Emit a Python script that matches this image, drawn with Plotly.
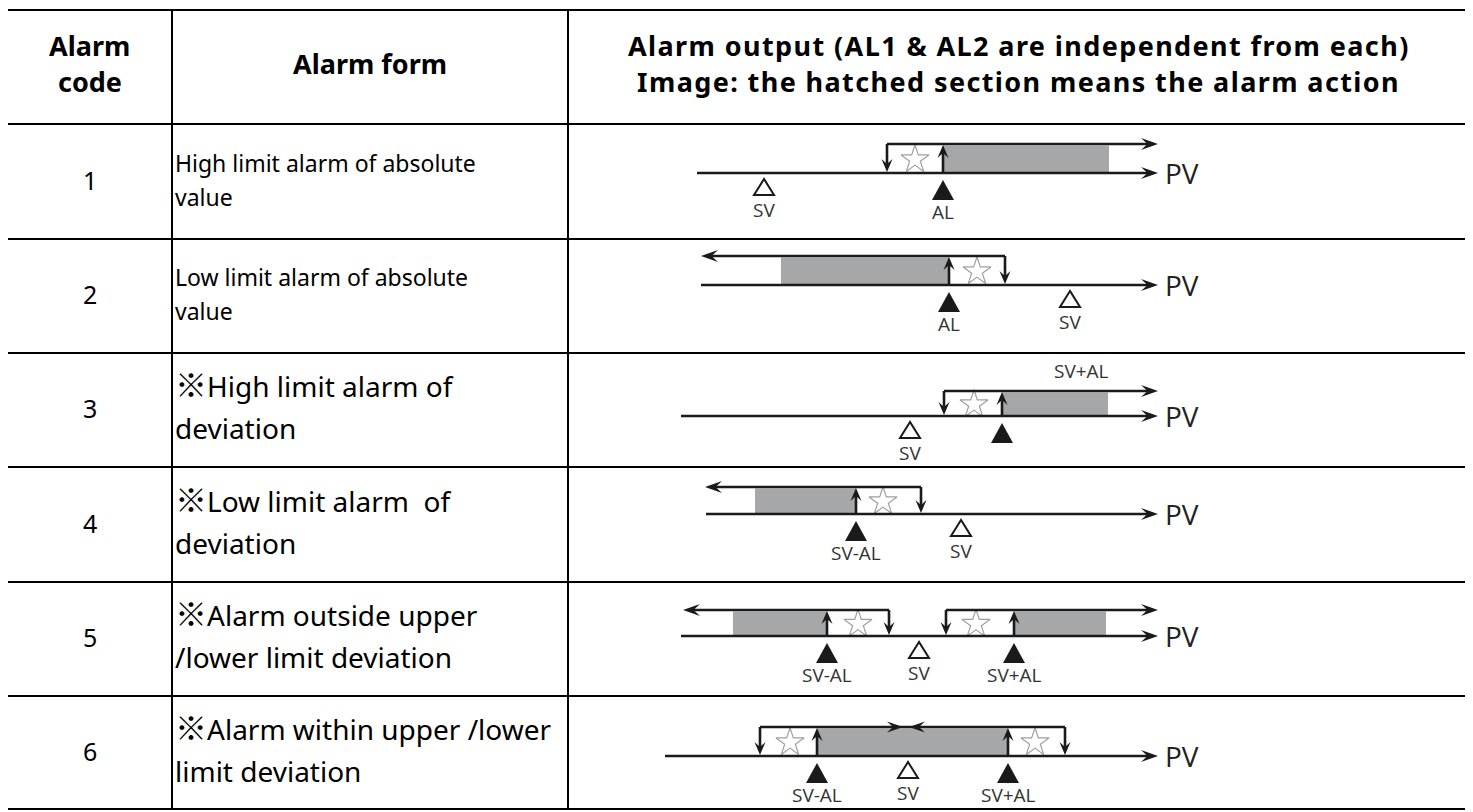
import plotly.graph_objects as go

W, H = 1473, 812
OFF = 8  # page body margin in the browser

# ---------------- table data ----------------
col_edges = [7, 172, 568, 1469]
row_edges = [10, 124, 239, 353, 467, 582, 696, 809]

header_code = ["Alarm", "code"]
header_form = "Alarm form"
header_output = ["Alarm output (AL1 & AL2 are independent from each)",
                 "Image: the hatched section means the alarm action"]

codes = ["1", "2", "3", "4", "5", "6"]
mark = ["", "", "※", "※", "※", "※"]
form_line1 = ["High limit alarm of absolute", "Low limit alarm of absolute",
              "High limit alarm of", "Low limit alarm&nbsp; of",
              "Alarm outside upper", "Alarm within upper /lower"]
form_line2 = ["value", "value", "deviation", "deviation",
              "/lower limit deviation", "limit deviation"]
form_size = [23, 23, 28, 28, 28, 28]

# ---------------- diagram data (positions along the PV axis) ----------------
axis_y = [173, 285, 416, 514, 636, 756]
top_y = [144, 256, 391, 487, 610, 727]
axis_start = [697, 701, 681, 706, 681, 665]
axis_end = 1158
top_lines = [
    [(887, 1158, "right")],
    [(701, 1005, "left")],
    [(944, 1158, "right")],
    [(705, 921, "left")],
    [(683, 889, "left"), (946, 1158, "right")],
    [(760, 1065, "meet")],
]
meet_x = [None, None, None, None, None, 906]
down_arrows = [[887], [1005], [944], [921], [889, 946], [760, 1065]]
up_arrows = [[943], [949], [1002], [856], [827, 1014], [817, 1008]]
star_x = [[915], [977], [974], [883], [858, 976], [790, 1035]]
shades = [[(943, 1109)], [(781, 949)], [(1002, 1108)], [(755, 856)],
          [(733, 827), (1014, 1106)], [(817, 1008)]]
sv_x = [764, 1070, 910, 961, 919, 908]
al_x = [[943], [949], [1002], [856], [827, 1014], [817, 1008]]
al_labels = [["AL"], ["AL"], [""], ["SV-AL"], ["SV-AL", "SV+AL"], ["SV-AL", "SV+AL"]]
above_labels = [None, None, ("SV+AL", 1081), None, None, None]

# ---------------- build ----------------
fig = go.Figure()
shapes = []
annotations = []

LINE = "#1a1a1a"
SHADE = "#a6a7a9"


def head_path(tx, ty, dx, dy, L=17, Wd=6):
    bx, by = tx - L * dx, ty - L * dy
    px, py = -dy, dx
    nx, ny = tx - 0.62 * L * dx, ty - 0.62 * L * dy
    return (f"M {tx},{ty} L {bx + Wd * px},{by + Wd * py} "
            f"L {nx},{ny} L {bx - Wd * px},{by - Wd * py} Z")


def add_head(tx, ty, dx, dy, L=17, Wd=6):
    shapes.append(dict(type="path", xref="x", yref="y", path=head_path(tx, ty, dx, dy, L, Wd),
                       fillcolor=LINE, line=dict(width=0), layer="above"))


def add_line(x0, y0, x1, y1, w=2.6, color=LINE):
    shapes.append(dict(type="line", xref="x", yref="y", x0=x0, y0=y0, x1=x1, y1=y1,
                       line=dict(color=color, width=w), layer="above"))


LFONT = dict(family="Open Sans", size=19, color="#333")

# shaded sections first
for r, segs in enumerate(shades):
    for (a, b) in segs:
        shapes.append(dict(type="rect", xref="x", yref="y", x0=a, x1=b,
                           y0=top_y[r] + 1.5, y1=axis_y[r] - 1,
                           fillcolor=SHADE, line=dict(width=0), layer="below"))

for r in range(6):
    ay, ty = axis_y[r], top_y[r]
    # PV axis
    add_line(axis_start[r], ay, axis_end - 10, ay)
    add_head(axis_end, ay, 1, 0)
    annotations.append(dict(x=axis_end + 5, y=ay, text="PV", showarrow=False,
                            xanchor="left", yanchor="middle",
                            font=dict(family="Open Sans", size=28, color="#222")))
    # top lines
    for (a, b, d) in top_lines[r]:
        if d == "right":
            add_line(a, ty, b - 10, ty)
            add_head(b, ty, 1, 0)
        elif d == "left":
            add_line(a + 10, ty, b, ty)
            add_head(a, ty, -1, 0)
        else:
            add_line(a, ty, b, ty)
            m = meet_x[r]
            add_head(m - 3, ty, 1, 0, L=16, Wd=5.5)
            add_head(m + 3, ty, -1, 0, L=16, Wd=5.5)
    # vertical arrows
    for x in down_arrows[r]:
        add_line(x, ty, x, ay - 7)
        add_head(x, ay - 1, 0, 1, L=13, Wd=5.5)
    for x in up_arrows[r]:
        add_line(x, ay, x, ty + 7)
        add_head(x, ty + 1, 0, -1, L=13, Wd=5.5)
    # SV open triangle
    sx = sv_x[r]
    shapes.append(dict(type="path", xref="x", yref="y",
                       path=f"M {sx},{ay + 6} L {sx - 10},{ay + 22} L {sx + 10},{ay + 22} Z",
                       fillcolor="white", line=dict(color=LINE, width=2), layer="above"))
    annotations.append(dict(x=sx, y=ay + 37, text="SV", showarrow=False,
                            xanchor="center", yanchor="middle", font=LFONT))
    # AL filled triangles
    for x, lab in zip(al_x[r], al_labels[r]):
        shapes.append(dict(type="path", xref="x", yref="y",
                           path=f"M {x},{ay + 7} L {x - 11},{ay + 27} L {x + 11},{ay + 27} Z",
                           fillcolor=LINE, line=dict(width=0), layer="above"))
        if lab:
            annotations.append(dict(x=x, y=ay + 39, text=lab, showarrow=False,
                                    xanchor="center", yanchor="middle", font=LFONT))
    if above_labels[r]:
        lab, lx = above_labels[r]
        annotations.append(dict(x=lx, y=ty - 20, text=lab, showarrow=False,
                                xanchor="center", yanchor="middle", font=LFONT))

# stars
sx_all, sy_all = [], []
for r in range(6):
    for x in star_x[r]:
        sx_all.append(x)
        sy_all.append((top_y[r] + axis_y[r]) / 2 + 1)
fig.add_trace(go.Scatter(x=sx_all, y=sy_all, mode="markers", hoverinfo="skip",
                         marker=dict(symbol="star-open", size=21, color="#a0a0a0",
                                     line=dict(width=1.2, color="#a0a0a0"))))

# table grid
for y in row_edges:
    add_line(col_edges[0] - 1, y, col_edges[-1] + 1, y, w=2, color="#000")
for x in col_edges:
    add_line(x, row_edges[0], x, row_edges[-1], w=2, color="#000")

HFONT = dict(family="Noto Sans", size=27, color="#000")

hc = (row_edges[0] + row_edges[1]) / 2
c1 = (col_edges[0] + col_edges[1]) / 2
c2 = (col_edges[1] + col_edges[2]) / 2
c3 = (col_edges[2] + col_edges[3]) / 2
annotations.append(dict(x=c1, y=hc - 22, text=f"<b>{header_code[0]}</b>", showarrow=False,
                        xanchor="center", yanchor="middle", font=HFONT))
annotations.append(dict(x=c1, y=hc + 14, text=f"<b>{header_code[1]}</b>", showarrow=False,
                        xanchor="center", yanchor="middle", font=HFONT))
annotations.append(dict(x=c2, y=hc - 4, text=f"<b>{header_form}</b>", showarrow=False,
                        xanchor="center", yanchor="middle", font=HFONT))
for i, dy in enumerate([-22, 14]):
    annotations.append(dict(x=c3, y=hc + dy,
                            text=f"<span style=\"letter-spacing:1.4px\"><b>{header_output[i]}</b></span>",
                            showarrow=False, xanchor="center", yanchor="middle", font=HFONT))

for r in range(6):
    rc = (row_edges[r + 1] + row_edges[r + 2]) / 2
    fs = form_size[r]
    bfont = dict(family="Noto Sans", size=fs, color="#000")
    annotations.append(dict(x=c1, y=rc - 2, text=codes[r], showarrow=False,
                            xanchor="center", yanchor="middle",
                            font=dict(family="Noto Sans", size=25, color="#000")))
    t1 = form_line1[r]
    if mark[r]:
        t1 = (f"<span style=\"font-family:'Noto Sans CJK JP';font-size:32px\">{mark[r]}</span>"
              + t1)
    if fs > 25:
        y1, y2 = rc - 27, rc + 18
    else:
        y1, y2 = rc - 19, rc + 15
    annotations.append(dict(x=col_edges[1] + 1, y=y1, text=t1, showarrow=False,
                            xanchor="left", yanchor="middle", font=bfont))
    annotations.append(dict(x=col_edges[1] + 1, y=y2, text=form_line2[r], showarrow=False,
                            xanchor="left", yanchor="middle", font=bfont))

fig.update_layout(
    width=W - OFF, height=H - OFF, margin=dict(l=0, r=0, t=0, b=0),
    paper_bgcolor="white", plot_bgcolor="white", showlegend=False,
    xaxis=dict(range=[OFF, W], visible=False, fixedrange=True),
    yaxis=dict(range=[H, OFF], visible=False, fixedrange=True),
    shapes=shapes, annotations=annotations,
)
fig.write_html("out.html", config={"displayModeBar": False})
